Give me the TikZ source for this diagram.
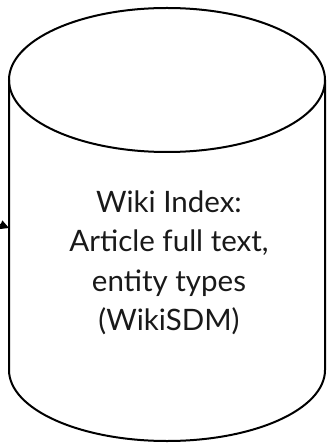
\documentclass[tikz,border=0pt]{standalone}
\usepackage{fontspec}
\setmainfont{Lato}
\usetikzlibrary{arrows.meta}
\begin{document}
\begin{tikzpicture}[x=1pt,y=1pt,
  dbline/.style={draw=black,line width=2pt},
  dbtext/.style={align=center,font=\fontsize{29.5}{39.5}\selectfont,text=black!90,inner sep=0pt},
  conn/.style={draw=black,line width=1.5pt,-{Triangle[length=9pt,width=9pt]}}]
\useasboundingbox (0,0) rectangle (329,-443);
% cylinder
\draw[dbline] (167,-80) ellipse [x radius=158, y radius=72];
\draw[dbline] (9,-80) -- (9,-370) arc[start angle=180,end angle=360,x radius=158,y radius=71] -- (325,-80);
\node[dbtext] (db) at (169,-263) {Wiki Index:\\Article full text,\\entity types\\(WikiSDM)};
\coordinate (dbwest) at (9,-228);
\coordinate (src) at (-40,-209);
\draw[conn] (src) -- (dbwest);
\end{tikzpicture}
\end{document}
